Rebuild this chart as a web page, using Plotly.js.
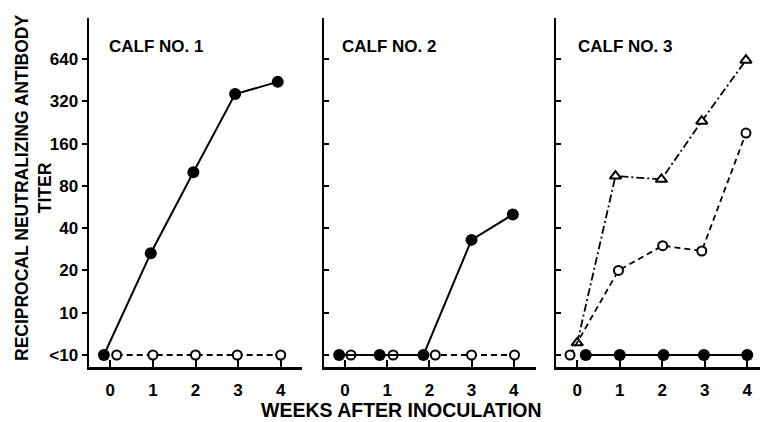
<!DOCTYPE html>
<html>
<head>
<meta charset="utf-8">
<script src="https://cdn.plot.ly/plotly-3.0.1.min.js"></script>
<style>html,body{margin:0;padding:0;background:#fff;}#plot{width:760px;height:422px;}</style>
</head>
<body>
<div id="plot"></div>
<script>
// Titer values (<10 plotted as 5)
const yTickVals = [5, 10, 20, 40, 80, 160, 320, 640];
const yTickText = ['<10', '10', '20', '40', '80', '160', '320', '640'];
const weekTicks = [0, 1, 2, 3, 4];
const panelTitles = ['CALF NO. 1', 'CALF NO. 2', 'CALF NO. 3'];

// Calf 1
const c1FilledX = [-0.15, 0.95, 1.95, 2.93, 3.93];
const c1FilledY = [5, 26.5, 100, 360, 440];
const c1OpenX = [0.15, 1.0, 2.0, 2.98, 4.0];
const c1OpenY = [5, 5, 5, 5, 5];

// Calf 2
const c2FilledX = [-0.14, 0.82, 1.86, 3.0, 3.98];
const c2FilledY = [5, 5, 5, 33, 50];
const c2OpenX = [0.14, 1.14, 2.14, 3.0, 4.02];
const c2OpenY = [5, 5, 5, 5, 5];

// Calf 3
const c3FilledX = [0.2, 1.0, 2.03, 2.98, 4.0];
const c3FilledY = [5, 5, 5, 5, 5];
const c3OpenX = [-0.17, 0.97, 2.01, 2.93, 3.97];
const c3OpenY = [5, 20, 30, 27.5, 190];
const c3TriX = [0.0, 0.9, 1.98, 2.93, 3.97];
const c3TriY = [6.1, 94, 89, 231, 628];

const W = 760, H = 422;
const L2 = Math.log10(2);
const yRange = [Math.log10(5) - 0.284 * L2, Math.log10(5) + 7.97 * L2];
const FONT = 'Liberation Sans';

function filled(x, y, xa, ya) {
  return {x: x, y: y, xaxis: xa, yaxis: ya, type: 'scatter', mode: 'lines+markers',
    line: {color: '#000', width: 2}, marker: {color: '#000', size: 12}, showlegend: false, hoverinfo: 'skip'};
}
function open(x, y, xa, ya) {
  return {x: x, y: y, xaxis: xa, yaxis: ya, type: 'scatter', mode: 'lines+markers',
    line: {color: '#000', width: 1.8, dash: '6px,4px'},
    marker: {symbol: 'circle', color: '#fff', size: 9, line: {color: '#000', width: 2}}, showlegend: false, hoverinfo: 'skip'};
}
function tri(x, y, xa, ya) {
  return {x: x, y: y, xaxis: xa, yaxis: ya, type: 'scatter', mode: 'lines+markers',
    line: {color: '#000', width: 1.8, dash: '8px,3px,2px,3px'},
    marker: {symbol: 'triangle-up', color: '#fff', size: 10, line: {color: '#000', width: 2}}, showlegend: false, hoverinfo: 'skip'};
}

const data = [
  open(c1OpenX, c1OpenY, 'x', 'y'),
  filled(c1FilledX, c1FilledY, 'x', 'y'),
  open(c2OpenX, c2OpenY, 'x2', 'y2'),
  filled(c2FilledX, c2FilledY, 'x2', 'y2'),
  tri(c3TriX, c3TriY, 'x3', 'y3'),
  open(c3OpenX, c3OpenY, 'x3', 'y3'),
  filled(c3FilledX, c3FilledY, 'x3', 'y3')
];

const yDom = [(H - 367) / H, (H - 18) / H];
function xAxis(d0, d1, r1, anchor) {
  return {domain: [d0 / W, d1 / W], range: [-0.5, r1], anchor: anchor,
    showline: true, linecolor: '#000', linewidth: 2.5, showgrid: false, zeroline: false,
    ticks: 'inside', ticklen: 7, tickwidth: 2, tickcolor: '#000',
    tickvals: weekTicks, ticktext: weekTicks.map(String),
    tickfont: {family: FONT, size: 17, color: '#000', weight: 'bold'}, ticklabelstandoff: 6, fixedrange: true};
}
function yAxis(anchor, labels) {
  return {type: 'log', domain: yDom, range: yRange, anchor: anchor,
    showline: true, linecolor: '#000', linewidth: 2.5, showgrid: false, zeroline: false,
    ticks: labels ? 'outside' : 'inside', ticklen: 5, tickwidth: 2, tickcolor: '#000',
    tickvals: yTickVals, ticktext: yTickText, showticklabels: labels,
    tickfont: {family: FONT, size: 17, color: '#000', weight: 'bold'}, fixedrange: true};
}

const annFont = {family: FONT, size: 17, color: '#000', weight: 'bold'};
const layout = {
  width: W, height: H, margin: {l: 0, r: 0, t: 0, b: 0},
  paper_bgcolor: '#fff', plot_bgcolor: 'rgba(0,0,0,0)', showlegend: false,
  xaxis: xAxis(89, 302, 4.5, 'y'),
  yaxis: yAxis('x', true),
  xaxis2: xAxis(324, 536, 4.53, 'y2'),
  yaxis2: yAxis('x2', false),
  xaxis3: xAxis(556, 760, 4.3, 'y3'),
  yaxis3: yAxis('x3', false),
  annotations: [
    {text: panelTitles[0], xref: 'paper', yref: 'paper', x: 156 / W, y: (H - 46) / H, showarrow: false, xanchor: 'center', yanchor: 'middle', font: annFont},
    {text: panelTitles[1], xref: 'paper', yref: 'paper', x: 389 / W, y: (H - 46) / H, showarrow: false, xanchor: 'center', yanchor: 'middle', font: annFont},
    {text: panelTitles[2], xref: 'paper', yref: 'paper', x: 625 / W, y: (H - 46) / H, showarrow: false, xanchor: 'center', yanchor: 'middle', font: annFont},
    {text: 'WEEKS AFTER INOCULATION', xref: 'paper', yref: 'paper', x: 401 / W, y: (H - 410) / H, showarrow: false, xanchor: 'center', yanchor: 'middle', font: {family: FONT, size: 19.5, color: '#000', weight: 'bold'}},
    {text: 'RECIPROCAL NEUTRALIZING ANTIBODY<br>TITER', xref: 'paper', yref: 'paper', x: 33 / W, y: (H - 188) / H, showarrow: false, xanchor: 'center', yanchor: 'middle', textangle: -90, font: {family: FONT, size: 17.5, color: '#000', weight: 'bold'}}
  ]
};

Plotly.newPlot('plot', data, layout, {staticPlot: true, displayModeBar: false});
</script>
</body>
</html>
